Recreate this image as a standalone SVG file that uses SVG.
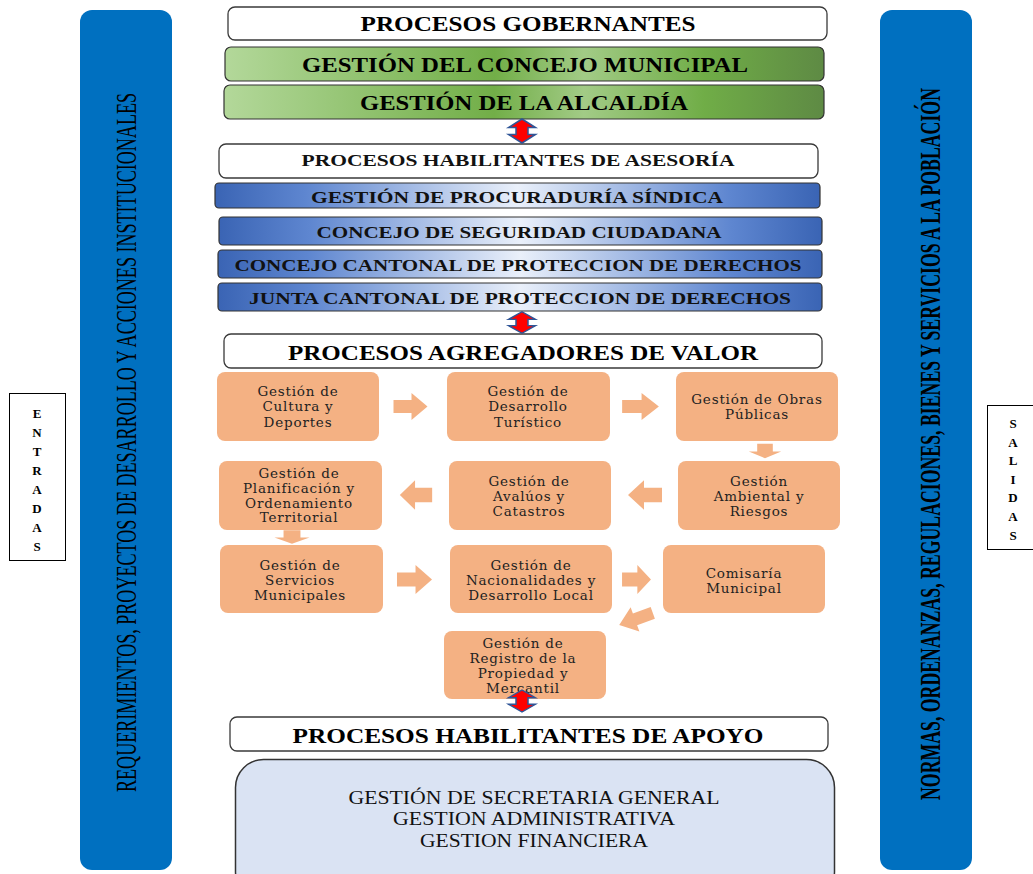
<svg xmlns="http://www.w3.org/2000/svg" width="1033" height="874" viewBox="0 0 1033 874">
<defs>
<style>
.bar{fill:#0070C0}
.side{fill:#fff;stroke:#000;stroke-width:1}
.sl{font-family:"Liberation Serif",serif;font-weight:bold;font-size:13px;text-anchor:middle;fill:#000}
.vt{font-family:"Liberation Serif",serif;font-size:17px;fill:#000}
.hd{fill:#fff;stroke:#3a3a3a;stroke-width:1.3}
.gr{fill:url(#gGreen);stroke:#333;stroke-width:1.2}
.bl{fill:url(#gBlue);stroke:#333;stroke-width:1.2}
.h1{font-family:"Liberation Serif",serif;font-weight:bold;font-size:22px;text-anchor:middle;fill:#000}
.h2{font-family:"Liberation Serif",serif;font-weight:bold;font-size:17px;text-anchor:middle;fill:#111}
.ob{fill:#F4B183}
.ot{font-family:"DejaVu Serif",serif;font-size:13.5px;letter-spacing:0.8px;text-anchor:middle;fill:#222}
.bt{font-family:"Liberation Serif",serif;font-size:18px;text-anchor:middle;fill:#111}
.dbl{fill:#FF0000;stroke:#2F5597;stroke-width:1.5}
.oa{fill:#F4B183}
</style>
<linearGradient id="gGreen" x1="0" y1="0" x2="1" y2="0">
<stop offset="0" stop-color="#B3D89A"/>
<stop offset="0.45" stop-color="#72AE48"/>
<stop offset="0.6" stop-color="#A2CB86"/>
<stop offset="0.8" stop-color="#70AD47"/>
<stop offset="1" stop-color="#5E8A44"/>
</linearGradient>
<linearGradient id="gBlue" x1="0" y1="0" x2="1" y2="0">
<stop offset="0" stop-color="#3A64B4"/>
<stop offset="0.15" stop-color="#5E86D0"/>
<stop offset="0.5" stop-color="#EAF0FA"/>
<stop offset="0.85" stop-color="#5E86D0"/>
<stop offset="1" stop-color="#3A64B4"/>
</linearGradient>
<polygon id="dblArrow" class="dbl" points="0,-12 13.5,-3.5 6,-3.5 6,3.5 13.5,3.5 0,12 -13.5,3.5 -6,3.5 -6,-3.5 -13.5,-3.5"/>
<path id="blockArrow" class="oa" d="M-17,-6.5 H1 V-13.5 L17,0 L1,13.5 V6.5 H-17 Z"/>
</defs>

<g id="entradas-bar">
<rect class="bar" x="80" y="10" width="92" height="860" rx="12"/>
<text class="vt" transform="translate(136,792) rotate(-90) scale(1,1.75)" textLength="699" lengthAdjust="spacingAndGlyphs">REQUERIMIENTOS, PROYECTOS DE DESARROLLO Y ACCIONES INSTITUCIONALES</text>
</g>
<g id="salidas-bar">
<rect class="bar" x="880" y="10" width="92" height="860" rx="12"/>
<text class="vt" font-weight="bold" transform="translate(940,800) rotate(-90) scale(1,1.75)" textLength="712" lengthAdjust="spacingAndGlyphs">NORMAS, ORDENANZAS, REGULACIONES, BIENES Y SERVICIOS A LA POBLACIÓN</text>
</g>

<g id="entradas">
<rect class="side" x="9.5" y="393.5" width="56" height="167"/>
<text class="sl" x="37" y="418">E</text>
<text class="sl" x="37" y="437">N</text>
<text class="sl" x="37" y="456">T</text>
<text class="sl" x="37" y="475">R</text>
<text class="sl" x="37" y="494">A</text>
<text class="sl" x="37" y="513">D</text>
<text class="sl" x="37" y="532">A</text>
<text class="sl" x="37" y="551">S</text>
</g>
<g id="salidas">
<rect class="side" x="987.5" y="405.5" width="50" height="144"/>
<text class="sl" x="1013" y="428">S</text>
<text class="sl" x="1013" y="447">A</text>
<text class="sl" x="1013" y="465">L</text>
<text class="sl" x="1013" y="484">I</text>
<text class="sl" x="1013" y="502">D</text>
<text class="sl" x="1013" y="521">A</text>
<text class="sl" x="1013" y="540">S</text>
</g>

<g id="procesos-gobernantes">
<rect class="hd" x="228" y="7" width="599" height="33" rx="7"/>
<text class="h1" x="528" y="31" textLength="335" lengthAdjust="spacingAndGlyphs">PROCESOS GOBERNANTES</text>
</g>
<g id="concejo-municipal">
<rect class="gr" x="225" y="47" width="599" height="34" rx="6"/>
<text class="h1" x="525" y="72" textLength="446" lengthAdjust="spacingAndGlyphs">GESTIÓN DEL CONCEJO MUNICIPAL</text>
</g>
<g id="alcaldia">
<rect class="gr" x="224" y="85" width="600" height="34" rx="6"/>
<text class="h1" x="524" y="110" textLength="328" lengthAdjust="spacingAndGlyphs">GESTIÓN DE LA ALCALDÍA</text>
</g>

<g id="procesos-asesoria">
<rect class="hd" x="219" y="144" width="599" height="34" rx="7"/>
<text class="h2" x="518" y="166" textLength="433" lengthAdjust="spacingAndGlyphs">PROCESOS HABILITANTES DE ASESORÍA</text>
</g>
<g id="procuraduria">
<rect class="bl" x="215" y="183" width="605" height="25" rx="4"/>
<text class="h2" x="517" y="203" textLength="412" lengthAdjust="spacingAndGlyphs">GESTIÓN DE PROCURADURÍA SÍNDICA</text>
</g>
<g id="seguridad">
<rect class="bl" x="219" y="217" width="603" height="28" rx="4"/>
<text class="h2" x="519" y="238" textLength="405" lengthAdjust="spacingAndGlyphs">CONCEJO DE SEGURIDAD CIUDADANA</text>
</g>
<g id="concejo-cantonal">
<rect class="bl" x="218" y="250" width="604" height="28" rx="4"/>
<text class="h2" x="518" y="271" textLength="567" lengthAdjust="spacingAndGlyphs">CONCEJO CANTONAL DE PROTECCION DE DERECHOS</text>
</g>
<g id="junta-cantonal">
<rect class="bl" x="218" y="283" width="604" height="28" rx="4"/>
<text class="h2" x="520" y="304" textLength="542" lengthAdjust="spacingAndGlyphs">JUNTA CANTONAL DE PROTECCION DE DERECHOS</text>
</g>

<g id="procesos-agregadores">
<rect class="hd" x="224" y="334" width="598" height="34" rx="7"/>
<text class="h1" x="523" y="360" textLength="470" lengthAdjust="spacingAndGlyphs">PROCESOS AGREGADORES DE VALOR</text>
</g>

<g id="cultura">
<rect class="ob" x="217" y="372" width="162" height="69" rx="8"/>
<text class="ot" x="298" y="396">Gestión de</text>
<text class="ot" x="298" y="411">Cultura y</text>
<text class="ot" x="298" y="427">Deportes</text>
</g>
<g id="turistico">
<rect class="ob" x="447" y="372" width="163" height="69" rx="8"/>
<text class="ot" x="528" y="396">Gestión de</text>
<text class="ot" x="528" y="411">Desarrollo</text>
<text class="ot" x="528" y="427">Turístico</text>
</g>
<g id="obras">
<rect class="ob" x="676" y="372" width="162" height="69" rx="8"/>
<text class="ot" x="757" y="404">Gestión de Obras</text>
<text class="ot" x="757" y="419">Públicas</text>
</g>
<g id="planificacion">
<rect class="ob" x="219" y="461" width="163" height="69" rx="8"/>
<text class="ot" x="299" y="478">Gestión de</text>
<text class="ot" x="299" y="493">Planificación y</text>
<text class="ot" x="299" y="508">Ordenamiento</text>
<text class="ot" x="299" y="522">Territorial</text>
</g>
<g id="avaluos">
<rect class="ob" x="449" y="461" width="162" height="69" rx="8"/>
<text class="ot" x="529" y="486">Gestión de</text>
<text class="ot" x="529" y="501">Avalúos y</text>
<text class="ot" x="529" y="516">Catastros</text>
</g>
<g id="ambiental">
<rect class="ob" x="678" y="461" width="162" height="69" rx="8"/>
<text class="ot" x="759" y="486">Gestión</text>
<text class="ot" x="759" y="501">Ambiental y</text>
<text class="ot" x="759" y="516">Riesgos</text>
</g>
<g id="servicios">
<rect class="ob" x="220" y="545" width="163" height="68" rx="8"/>
<text class="ot" x="300" y="570">Gestión de</text>
<text class="ot" x="300" y="585">Servicios</text>
<text class="ot" x="300" y="600">Municipales</text>
</g>
<g id="nacionalidades">
<rect class="ob" x="450" y="545" width="162" height="68" rx="8"/>
<text class="ot" x="531" y="570">Gestión de</text>
<text class="ot" x="531" y="585">Nacionalidades y</text>
<text class="ot" x="531" y="600">Desarrollo Local</text>
</g>
<g id="comisaria">
<rect class="ob" x="663" y="545" width="162" height="68" rx="8"/>
<text class="ot" x="744" y="578">Comisaría</text>
<text class="ot" x="744" y="593">Municipal</text>
</g>
<g id="registro">
<rect class="ob" x="444" y="631" width="162" height="68" rx="8"/>
<text class="ot" x="523" y="648">Gestión de</text>
<text class="ot" x="523" y="663">Registro de la</text>
<text class="ot" x="523" y="678">Propiedad y</text>
<text class="ot" x="523" y="693">Mercantil</text>
</g>

<g id="procesos-apoyo">
<rect class="hd" x="230" y="717" width="598" height="34" rx="7"/>
<text class="h1" x="528" y="743" textLength="471" lengthAdjust="spacingAndGlyphs">PROCESOS HABILITANTES DE APOYO</text>
</g>
<g id="apoyo">
<rect x="235.5" y="759.5" width="599" height="140" rx="28" fill="#DAE3F3" stroke="#333" stroke-width="1.5"/>
<text class="bt" x="534" y="804" textLength="371" lengthAdjust="spacingAndGlyphs">GESTIÓN DE SECRETARIA GENERAL</text>
<text class="bt" x="534" y="825" textLength="282" lengthAdjust="spacingAndGlyphs">GESTION ADMINISTRATIVA</text>
<text class="bt" x="534" y="847" textLength="228" lengthAdjust="spacingAndGlyphs">GESTION FINANCIERA</text>
</g>

<g id="connectors">
<use href="#dblArrow" transform="translate(522,131)"/>
<use href="#dblArrow" transform="translate(522,322.5) scale(1,0.9)"/>
<use href="#dblArrow" transform="translate(522,701) scale(1,0.92)"/>
<use href="#blockArrow" transform="translate(410.5,406.5)"/>
<use href="#blockArrow" transform="translate(640.5,406.5) scale(1.08,1)"/>
<use href="#blockArrow" transform="translate(765,451) rotate(90) scale(0.42,1.2)"/>
<use href="#blockArrow" transform="translate(645,495) rotate(180) scale(1,1.1)"/>
<use href="#blockArrow" transform="translate(416,495) rotate(180) scale(0.95,1.1)"/>
<use href="#blockArrow" transform="translate(292,537) rotate(90) scale(0.4,1.3)"/>
<use href="#blockArrow" transform="translate(414.5,579.5) scale(1.03,1.08)"/>
<use href="#blockArrow" transform="translate(636.5,579.5) scale(0.85,1.08)"/>
<use href="#blockArrow" transform="translate(636,619) rotate(160) scale(1.05,0.95)"/>
</g>
</svg>
